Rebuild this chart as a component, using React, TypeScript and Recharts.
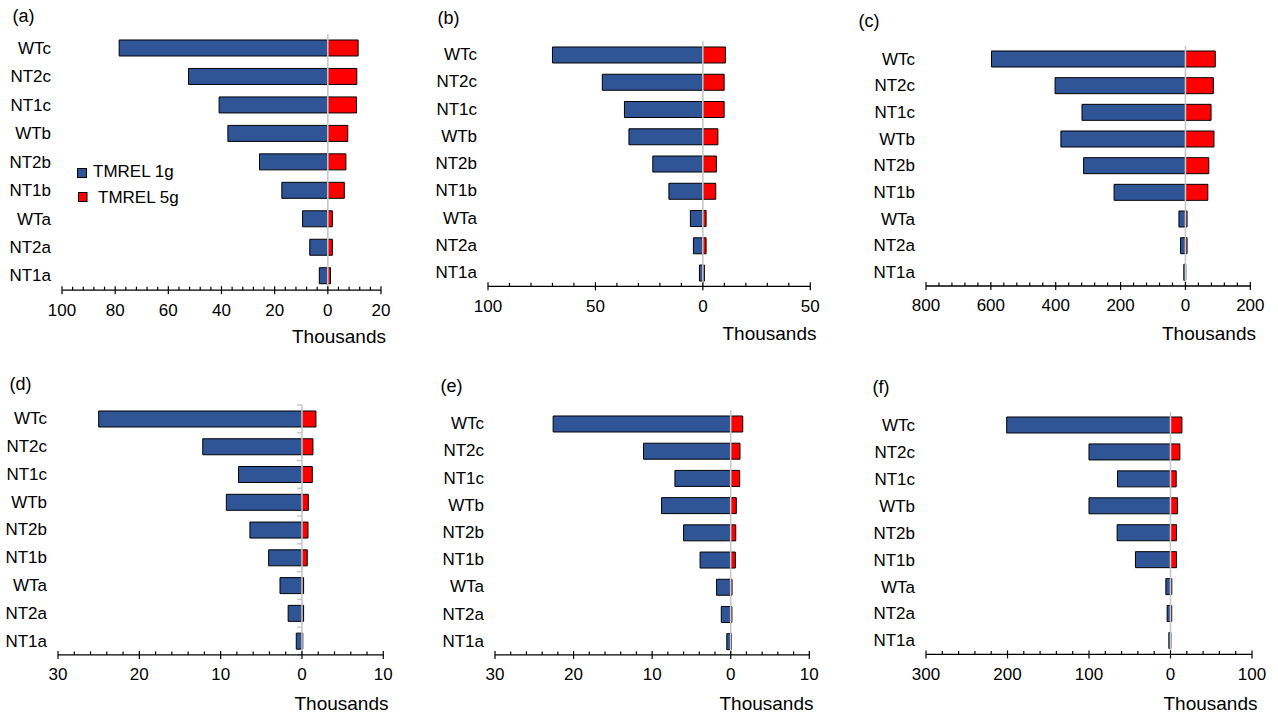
import React from 'react';
import { BarChart, Bar, XAxis, YAxis, ReferenceLine } from 'recharts';

const FONT = '"Liberation Sans", Arial, Helvetica, sans-serif';
const BLUE = '#2F5597';
const RED = '#FF0000';
const ZERO = '#C8C8C8';

const categories = ['WTc', 'NT2c', 'NT1c', 'WTb', 'NT2b', 'NT1b', 'WTa', 'NT2a', 'NT1a'];

// TMREL 1g (negative, drawn to the left) and TMREL 5g (positive), thousands
const a1g = [-78.5, -52.4, -40.9, -37.6, -25.7, -17.3, -9.5, -6.8, -3.2];
const a5g = [11.4, 10.9, 10.8, 7.5, 6.8, 6.2, 1.7, 1.7, 1.0];
const b1g = [-70.0, -46.8, -36.5, -34.4, -23.3, -15.8, -5.8, -4.4, -1.6];
const b5g = [10.5, 9.9, 9.9, 7.0, 6.3, 6.0, 1.5, 1.5, 0.7];
const c1g = [-598, -402, -319, -384, -314, -220, -20, -15, -5];
const c5g = [92, 86, 79, 88, 72, 69, 5, 5, 1];
const d1g = [-25.0, -12.2, -7.8, -9.3, -6.4, -4.1, -2.7, -1.7, -0.7];
const d5g = [1.72, 1.35, 1.27, 0.78, 0.74, 0.65, 0.2, 0.2, 0.1];
const e1g = [-22.6, -11.1, -7.1, -8.8, -6.0, -3.9, -1.8, -1.2, -0.5];
const e5g = [1.53, 1.18, 1.14, 0.71, 0.64, 0.59, 0.17, 0.15, 0.1];
const f1g = [-201, -100, -65, -100, -65.5, -43, -5.7, -4.1, -2];
const f5g = [14, 11.5, 7, 8.6, 7.4, 7.4, 1.6, 1.5, 0.5];

const aMajor = [-100, -80, -60, -40, -20, 0, 20];
const bMajor = [-100, -50, 0, 50];
const cMajor = [-800, -600, -400, -200, 0, 200];
const dMajor = [-30, -20, -10, 0, 10];
const eMajor = [-30, -20, -10, 0, 10];
const fMajor = [-300, -200, -100, 0, 100];

const legendLabels = ['TMREL 1g', 'TMREL 5g'];
const axisUnit = 'Thousands';

type Cfg = {
  title: string;
  ones: number[];
  fives: number[];
  majors: number[];
  minorStep: number;
  L: number; R: number; T: number; B: number;
  titleX: number; titleY: number;
  thX: number; thY: number;
  yTicks?: boolean;
};

const panels: Cfg[] = [
  { title: '(a)', ones: a1g, fives: a5g, majors: aMajor, minorStep: 4, L: 62, R: 381, T: 33.8, B: 290, titleX: 12.5, titleY: 22.2, thX: 386, thY: 343 },
  { title: '(b)', ones: b1g, fives: b5g, majors: bMajor, minorStep: 10, L: 487.7, R: 810, T: 40.7, B: 286, titleX: 437.5, titleY: 23.5, thX: 816.5, thY: 340 },
  { title: '(c)', ones: c1g, fives: c5g, majors: cMajor, minorStep: 40, L: 926, R: 1250.3, T: 45.7, B: 285.7, titleX: 858.5, titleY: 26.9, thX: 1256, thY: 340 },
  { title: '(d)', ones: d1g, fives: d5g, majors: dMajor, minorStep: 2, L: 57.7, R: 383, T: 405.1, B: 655, titleX: 9.5, titleY: 389.5, thX: 388.5, thY: 710, yTicks: true },
  { title: '(e)', ones: e1g, fives: e5g, majors: eMajor, minorStep: 2, L: 494.7, R: 809, T: 410.4, B: 655.3, titleX: 440.5, titleY: 391.9, thX: 813.5, thY: 710 },
  { title: '(f)', ones: f1g, fives: f5g, majors: fMajor, minorStep: 20, L: 926, R: 1252, T: 412.2, B: 654.6, titleX: 872.5, titleY: 392.9, thX: 1257.5, thY: 710 },
];

function makeTicks(lo: number, hi: number, step: number): number[] {
  const n = Math.round((hi - lo) / step);
  const out: number[] = [];
  for (let i = 0; i <= n; i++) out.push(+(lo + i * step).toFixed(6));
  return out;
}

function Panel({ cfg }: { cfg: Cfg }) {
  const data = categories.map((name, i) => ({ name, one: cfg.ones[i], five: cfg.fives[i] }));
  const lo = cfg.majors[0];
  const hi = cfg.majors[cfg.majors.length - 1];
  const ticks = makeTicks(lo, hi, cfg.minorStep);
  const yW = 60;
  const topM = 10;
  const rightM = 24;
  const xH = 40;
  const boxLeft = cfg.L - yW;
  const boxTop = cfg.T - topM;
  const width = cfg.R - boxLeft + rightM;
  const height = cfg.B - boxTop + xH;

  const XTick = (p: any) => {
    const { x, y, payload } = p;
    const v = payload.value;
    const major = cfg.majors.some((m) => Math.abs(m - v) < 1e-6);
    return (
      <g>
        {major ? (
          <line x1={x} x2={x} y1={y - 4} y2={y + 4} stroke="#000" strokeWidth={1.2} />
        ) : (
          <line x1={x} x2={x} y1={y - 3.5} y2={y} stroke="#000" strokeWidth={1.2} />
        )}
        {major && (
          <text x={x} y={y + 20} textAnchor="middle" dominantBaseline="central" fontSize={17} fontFamily={FONT} fill="#000">
            {Math.abs(v)}
          </text>
        )}
      </g>
    );
  };

  const YTick = (p: any) => {
    const { x, y, payload } = p;
    return (
      <text x={x - 11} y={y} textAnchor="end" dominantBaseline="central" fontSize={17} fontFamily={FONT} fill="#000">
        {payload.value}
      </text>
    );
  };

  const ZeroLine = (p: any) => {
    const { x1, y1, x2, y2 } = p;
    const marks: React.ReactNode[] = [];
    if (cfg.yTicks) {
      const n = categories.length;
      for (let i = 0; i <= n; i++) {
        const yy = y1 + ((y2 - y1) * i) / n;
        marks.push(<line key={i} x1={x1 - 5} x2={x1} y1={yy} y2={yy} stroke={ZERO} strokeWidth={1.5} />);
      }
    }
    return (
      <g>
        <line x1={x1} x2={x2} y1={y1} y2={y2} stroke={ZERO} strokeWidth={1.6} />
        {marks}
      </g>
    );
  };

  return (
    <div style={{ position: 'absolute', left: boxLeft, top: boxTop }}>
      <BarChart
        width={width}
        height={height}
        data={data}
        layout="vertical"
        stackOffset="sign"
        barSize={16}
        margin={{ top: topM, right: rightM, bottom: 0, left: 0 }}
        style={{ overflow: 'visible' }}
      >
        <XAxis
          type="number"
          domain={[lo, hi]}
          allowDataOverflow
          ticks={ticks}
          interval={0}
          tickSize={0}
          tickMargin={0}
          tickLine={false}
          axisLine={{ stroke: '#000', strokeWidth: 1.3 }}
          height={xH}
          tick={XTick}
        />
        <YAxis
          type="category"
          dataKey="name"
          width={yW}
          axisLine={false}
          tickLine={false}
          tickSize={0}
          tickMargin={0}
          interval={0}
          tick={YTick}
        />
        <Bar dataKey="one" stackId="s" fill={BLUE} stroke="#000" strokeWidth={1} isAnimationActive={false} />
        <Bar dataKey="five" stackId="s" fill={RED} stroke="#000" strokeWidth={1} isAnimationActive={false} />
        <ReferenceLine x={0} stroke={ZERO} shape={ZeroLine} />
      </BarChart>
    </div>
  );
}

export default function App() {
  return (
    <div style={{ position: 'absolute', left: 0, top: 0, width: 1278, height: 714, background: '#fff', overflow: 'hidden' }}>
      {panels.map((c) => (
        <Panel key={c.title} cfg={c} />
      ))}
      <svg width={1278} height={714} style={{ position: 'absolute', left: 0, top: 0, pointerEvents: 'none' }}>
        {panels.map((c) => (
          <g key={c.title}>
            <text x={c.titleX} y={c.titleY} fontSize={18} fontFamily={FONT} fill="#000">{c.title}</text>
            <text x={c.thX} y={c.thY} textAnchor="end" fontSize={19} fontFamily={FONT} fill="#000">{axisUnit}</text>
          </g>
        ))}
        <rect x={77.5} y={168.5} width={9} height={9} fill={BLUE} stroke="#000" strokeWidth={1} />
        <text x={93} y={177} fontSize={17} fontFamily={FONT} fill="#000">{legendLabels[0]}</text>
        <rect x={78.5} y={192.5} width={8.5} height={9} fill={RED} stroke="#000" strokeWidth={1} />
        <text x={98} y={202.5} fontSize={17} fontFamily={FONT} fill="#000">{legendLabels[1]}</text>
      </svg>
    </div>
  );
}
